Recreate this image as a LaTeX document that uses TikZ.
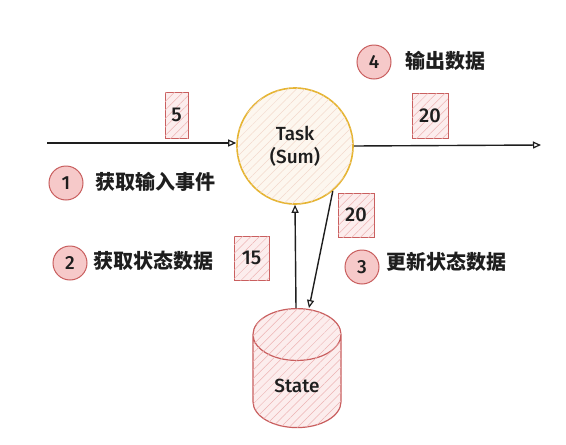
\documentclass[tikz,border=0pt]{standalone}
\usepackage{fontspec}
\setmainfont{Fira Sans}[UprightFont={* Medium},BoldFont={* SemiBold}]
\newfontfamily\cjk{Noto Sans CJK SC}
\usetikzlibrary{shapes.geometric,patterns.meta,arrows.meta}
\definecolor{redline}{HTML}{C95F5F}
\definecolor{pinkfill}{HTML}{F6C9C9}
\definecolor{boxfill}{HTML}{FCEDED}
\definecolor{hatchred}{HTML}{EDB3B3}
\definecolor{yellowline}{HTML}{E6B534}
\definecolor{creamfill}{HTML}{FDF7EF}
\definecolor{hatchcream}{HTML}{F3D9CC}
\definecolor{ink}{HTML}{1E1E1E}
\tikzset{
  hatch/.style={postaction={pattern={Lines[angle=45,distance=6pt,line width=0.5pt]},pattern color=#1}},
  numbox/.style={draw=redline,fill=boxfill,line width=1pt,hatch=hatchred,inner sep=0pt,
    font=\fontsize{20}{22}\selectfont,text=ink},
  stepnum/.style={circle,draw=redline,fill=pinkfill,line width=1pt,minimum size=34pt,inner sep=0pt,
    font=\fontsize{19}{21}\selectfont,text=ink},
  zhlabel/.style={anchor=west,inner sep=0pt,font=\cjk\bfseries\fontsize{20}{22}\selectfont,text=ink},
  arr/.style={draw=ink,line width=1.4pt,-{Triangle[open,length=8pt,width=7pt,line width=1.2pt]}}
}
\begin{document}
\begin{tikzpicture}[x=1pt,y=-1pt]
\useasboundingbox[fill=white] (0,0) rectangle (566,445);
% task
\node[circle,draw=yellowline,fill=creamfill,line width=1.6pt,minimum size=116pt,hatch=hatchcream,
  align=center,font=\fontsize{19}{23}\selectfont,text=ink] (task) at (295,146) {Task\\(Sum)};
% state
\node[cylinder,shape border rotate=90,aspect=1,draw=redline,fill=boxfill,line width=1.2pt,hatch=hatchred,
  minimum width=88pt,minimum height=119pt,font=\fontsize{19}{21}\selectfont,text=ink,anchor=top] (state) at (297,308) {State};
% boxes
\node[numbox,minimum width=23pt,minimum height=46pt] (b5) at (176.5,115) {5};
\node[numbox,minimum width=36pt,minimum height=45pt] (b20a) at (430,115.5) {20};
\node[numbox,minimum width=36pt,minimum height=44pt] (b20b) at (356,215) {20};
\node[numbox,minimum width=35pt,minimum height=44pt] (b15) at (251.5,258) {15};
% steps
\node[stepnum] (s1) at (66,183) {1};
\node[zhlabel] (l1) at (95,182) {获取输入事件};
\node[stepnum] (s2) at (70,263) {2};
\node[zhlabel] (l2) at (93,261) {获取状态数据};
\node[stepnum] (s3) at (362,267) {3};
\node[zhlabel] (l3) at (386,262) {更新状态数据};
\node[stepnum] (s4) at (374,62) {4};
\node[zhlabel] (l4) at (405,61) {输出数据};
% arrows
\coordinate (in) at (47,143);
\coordinate (out) at (541,145);
\draw[arr] (in) -- (in -| task.west);
\draw[arr] (task.east) -- (out);
\draw[arr] ([xshift=-1pt]state.top) -- (task.south);
\draw[arr] (task.-50) -- ([xshift=12pt]state.top);
\end{tikzpicture}
\end{document}
